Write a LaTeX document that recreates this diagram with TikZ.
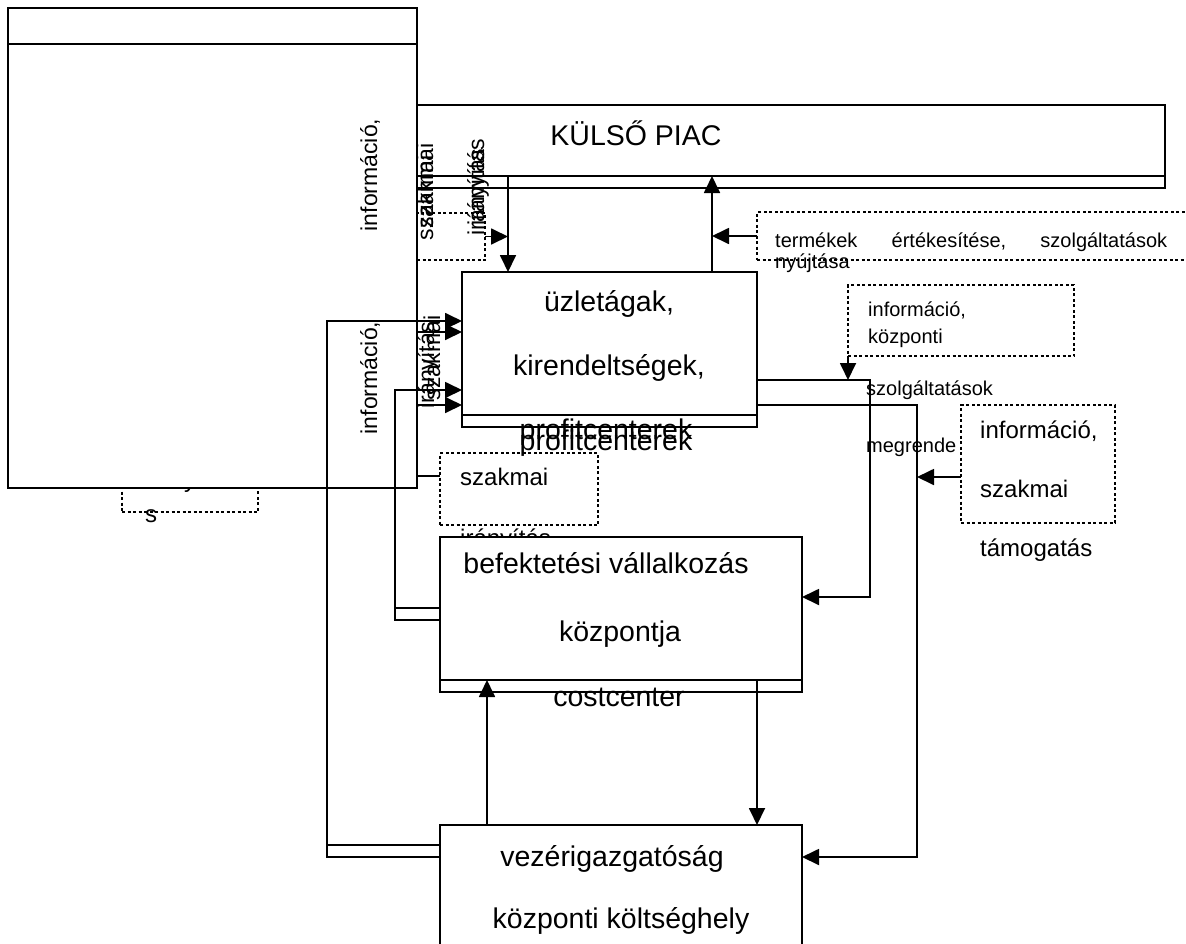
\documentclass[tikz,border=0pt]{standalone}
\usepackage{fontspec}
\setmainfont{Liberation Sans}
\usetikzlibrary{arrows.meta}
\begin{document}
\begin{tikzpicture}[x=1pt,y=-1pt,
  box/.style={draw, line width=1.8pt, inner sep=0pt, outer sep=0pt, anchor=north west},
  dotbox/.style={draw, line width=1.6pt, dash pattern=on 3pt off 2.5pt, inner sep=0pt, outer sep=0pt, anchor=north west},
  conn/.style={line width=1.8pt},
  arr/.style={conn, -{Triangle[length=17pt,width=16pt]}},
  txt/.style={inner sep=0pt, anchor=base west},
  ctxt/.style={inner sep=0pt, anchor=base},
  bigfont/.style={font=\fontsize{28.5}{34}\selectfont},
  midfont/.style={font=\fontsize{24}{29}\selectfont},
  smallfont/.style={font=\fontsize{20}{24}\selectfont},
  vtxt/.style={inner sep=0pt, rotate=90, font=\fontsize{23}{27}\selectfont},
]
\useasboundingbox (0,0) rectangle (1186,943);

% small dotted frame partly covered by the left panel
\node[dotbox, minimum width=136, minimum height=42] (dsmall) at (122,470) {};
\node[txt, midfont] (hid) at (144,487) {irányítá};
\node[txt, midfont] (hids) at (145,522) {s};

% left panel with header line
\node[box, fill=white, minimum width=409, minimum height=480] (panel) at (8,8) {};
\draw[conn] ([yshift=-36pt]panel.north west) -- ([yshift=-36pt]panel.north east);

% external market
\node[box, minimum width=748, minimum height=83] (kulso) at (417,105) {};
\draw[conn] ([yshift=12pt]kulso.south west) -- ([yshift=12pt]kulso.south east);
\coordinate (kIn) at ([yshift=12pt]kulso.south west);
\node[ctxt, bigfont] (kulsot) at (636,145) {KÜLSŐ PIAC};

% dotted label frames
\node[dotbox, minimum width=68, minimum height=47] (dtl) at (417,213) {};
\node[dotbox, minimum width=440, minimum height=48] (dtr) at (757,212) {};
\node[txt, smallfont] (t1) at (775,247) {\makebox[392pt][s]{termékek\hfill értékesítése,\hfill szolgáltatások}};
\node[txt, smallfont] (t2) at (775,268) {nyújtása};

\node[dotbox, minimum width=226, minimum height=71] (info1) at (848,285) {};
\node[txt, smallfont] (i1a) at (868,316) {információ,};
\node[txt, smallfont] (i1b) at (868,343) {központi};

\node[txt, smallfont] (szolg) at (866,395) {szolgáltatások};
\node[txt, smallfont] (megr) at (866,452) {megrende};

\node[dotbox, fill=white, minimum width=154, minimum height=118] (info2) at (961,405) {};
\node[txt, midfont] (i2a) at (980,438) {információ,};
\node[txt, midfont] (i2b) at (980,497) {szakmai};
\node[txt, midfont] (i2c) at (980,556) {támogatás};

\node[dotbox, minimum width=158, minimum height=72] (dszak) at (440,453) {};
\node[txt, midfont] (dsz1) at (460,485) {szakmai};
\node[txt, midfont] (dsz2) at (460,546) {irányítás};

% business units
\node[box, minimum width=295, minimum height=155] (uzlet) at (462,272) {};
\draw[conn] ([yshift=12pt]uzlet.south west) -- ([yshift=12pt]uzlet.south east);
\node[ctxt, bigfont] (u1) at (609,311) {üzletágak,};
\node[ctxt, bigfont] (u2) at (609,375) {kirendeltségek,};
\node[ctxt, bigfont] (u3) at (606,439) {profitcenterek};
\node[ctxt, bigfont] (u4) at (606,450) {profitcenterek};

% investment centre
\node[box, fill=white, minimum width=362, minimum height=155] (befekt) at (440,537) {};
\draw[conn] ([yshift=12pt]befekt.south west) -- ([yshift=12pt]befekt.south east);
\coordinate (bIn) at ([yshift=12pt]befekt.south west);
\node[ctxt, bigfont] (b1) at (606,573) {befektetési vállalkozás};
\node[ctxt, bigfont] (b2) at (620,641) {központja};
\node[ctxt, bigfont] (b3) at (619,706) {costcenter};

% head office
\node[box, fill=white, minimum width=362, minimum height=140] (vez) at (440,825) {};
\node[ctxt, bigfont] (v1) at (612,866) {vezérigazgatóság};
\node[ctxt, bigfont] (v2) at (621,928) {központi költséghely};

% rotated labels
\node[vtxt] (r1) at (370,175) {információ,};
\node[vtxt] (r2) at (425,186) {szakmai};
\node[vtxt] (r3) at (425,198) {szakmai};
\node[vtxt] (r4) at (478,182) {irányítás};
\node[vtxt] (r5) at (478,192) {irányítás};
\node[vtxt] (r6) at (370,378) {információ,};
\node[vtxt] (r7) at (432,358) {szakmai};
\node[vtxt] (r8) at (428,365) {irányítás};

% connectors between market and business units
\draw[arr] (kIn -| 508,0) -- (uzlet.north -| 508,0);
\draw[arr] (uzlet.north -| 712,0) -- (kIn -| 712,0);
\draw[arr] (dtl.east) -- (dtl.east -| 508,0);
\draw[arr] (dtr.west) -- (dtr.west -| 712,0);

% connectors on the right
\draw[arr] (info1.south west) -- (info1.south west |- 0,380);
\draw[arr] (uzlet.east |- 0,380) -- (870,380) -- (870,597) -- (befekt.east |- 0,597);
\draw[arr] (uzlet.east |- 0,405) -- (917,405) -- (917,857) -- (vez.east |- 0,857);
\draw[arr] (info2.west |- 0,477) -- (917,477);

% connectors on the left
\draw[arr] (vez.west |- 0,857) -- (327,857) -- (327,321) -- (uzlet.west |- 0,321);
\draw[conn] (327,845) -- (vez.west |- 0,845);
\draw[arr] (dszak.west |- 0,476) -- (417,476) -- (417,332) -- (uzlet.west |- 0,332);
\draw[arr] (417,405) -- (uzlet.west |- 0,405);
\draw[arr] (befekt.west |- 0,620) -- (395,620) -- (395,390) -- (uzlet.west |- 0,390);
\draw[conn] (395,608) -- (befekt.west |- 0,608);

% connectors between investment centre and head office
\draw[arr] (vez.north -| 487,0) -- (bIn -| 487,0);
\draw[arr] (bIn -| 757,0) -- (vez.north -| 757,0);
\end{tikzpicture}
\end{document}
